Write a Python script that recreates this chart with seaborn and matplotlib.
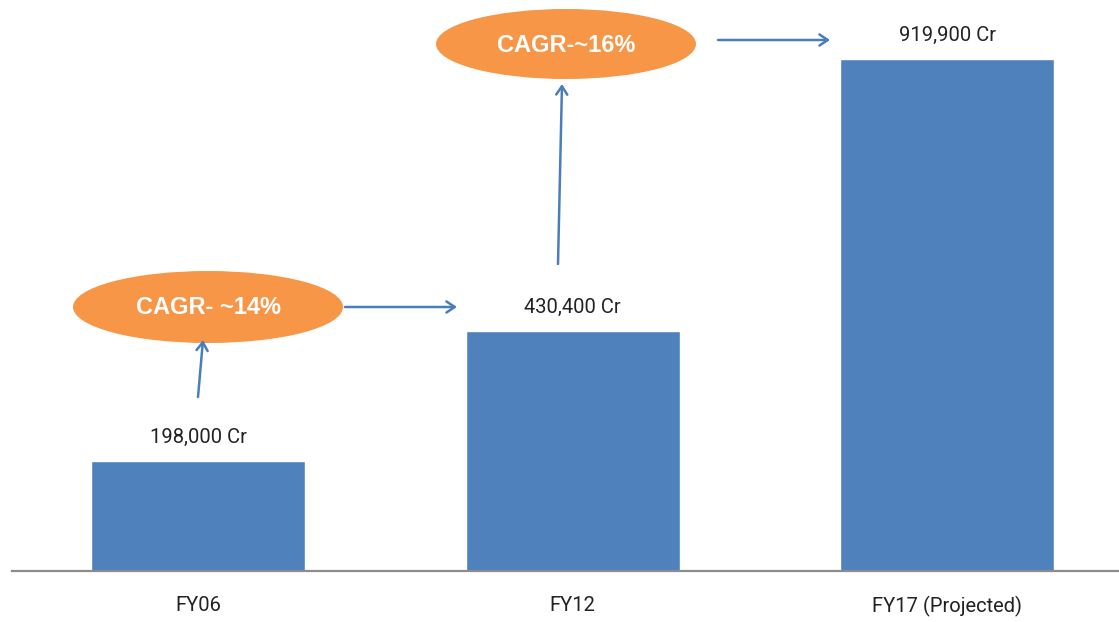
import matplotlib
matplotlib.use("Agg")
import matplotlib.pyplot as plt
from matplotlib.patches import Ellipse, FancyArrowPatch
import seaborn as sns
import pandas as pd

years = ["FY06", "FY12", "FY17 (Projected)"]
values = [198000, 430400, 919900]
value_labels = ["198,000 Cr", "430,400 Cr", "919,900 Cr"]
cagr_labels = ["CAGR- ~14%", "CAGR-~16%"]

W, H = 1119, 622
sns.set_theme(style="white")
plt.rcParams["font.family"] = ["Roboto", "DejaVu Sans"]

fig = plt.figure(figsize=(W / 100, H / 100), dpi=100)
ax = fig.add_axes([12 / W, 51 / H, (W - 12) / W, 571 / H])

df = pd.DataFrame({"year": years, "value": values})
sns.barplot(data=df, x="year", y="value", color="#4F81BD", saturation=1,
            width=0.571, ax=ax)

ax.set_xlim(-0.497, 2.459)
ax.set_ylim(0, 1025000)
for s in ["top", "right", "left"]:
    ax.spines[s].set_visible(False)
ax.spines["bottom"].set_color("#8C8C8C")
ax.spines["bottom"].set_linewidth(1.6)
ax.set_yticks([])
ax.set_xlabel("")
ax.set_ylabel("")
ax.tick_params(axis="x", length=0, pad=18, labelsize=14.5, labelcolor="#222222")

for i, (v, lab) in enumerate(zip(values, value_labels)):
    ax.annotate(lab, (i, v), xytext=(0, 10), textcoords="offset points",
                ha="center", va="bottom", fontsize=14.5, color="#222222")


def fp(x, y):
    return (x / W, 1 - y / H)


orange = "#F79646"
ellipses = [((208, 307), 270, 72), ((566, 44), 260, 70)]
for (c, w, h), txt in zip(ellipses, cagr_labels):
    e = Ellipse(fp(*c), w / W, h / H, transform=fig.transFigure,
                facecolor=orange, edgecolor="none")
    fig.patches.append(e)
    fig.text(*fp(c[0], c[1] + 1), txt, ha="center", va="center", color="white",
             fontsize=17, fontweight="bold", family=["Liberation Sans", "DejaVu Sans"])

arrow_color = "#4A7EBB"
arrows = [((198, 397), (203, 340)), ((345, 307), (457, 307)),
          ((558, 264), (562, 84)), ((718, 40), (830, 40))]
for a, b in arrows:
    arr = FancyArrowPatch(fp(*a), fp(*b), transform=fig.transFigure,
                          arrowstyle="->,head_length=6,head_width=4",
                          color=arrow_color, lw=1.8, shrinkA=0, shrinkB=0)
    fig.patches.append(arr)

fig.savefig("out.png", dpi=100)
